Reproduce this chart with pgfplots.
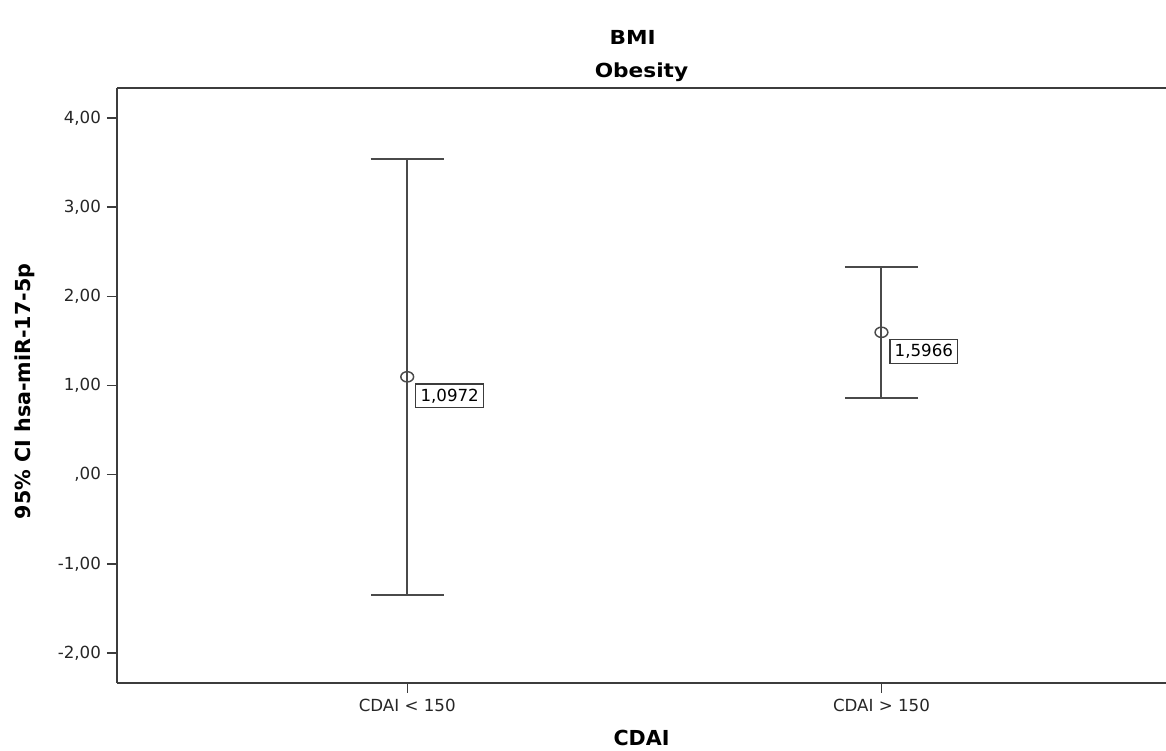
\documentclass[border=0pt]{standalone}
\usepackage{pgfplots}
\pgfplotsset{compat=1.18}
\usepackage{fontspec}
\setmainfont{DejaVu Sans}
\definecolor{axgray}{HTML}{3C3C3C}
\definecolor{bargray}{HTML}{4A4A4A}
\begin{document}
\begin{tikzpicture}
\begin{axis}[
  scale only axis,
  width=786.75pt, height=446.25pt,
  xmin=-0.612, xmax=1.6,
  ymin=-2.336, ymax=4.336,
  axis x line*=bottom, axis y line*=left,
  axis line style={axgray, line width=1.1pt, -},
  xtick={0,1}, xticklabels={CDAI < 150, CDAI > 150},
  ytick={-2,-1,0,1,2,3,4},
  yticklabels={{-2,00},{-1,00},{,00},{1,00},{2,00},{3,00},{4,00}},
  tick align=outside, major tick length=7.5pt,
  tick style={axgray, line width=1pt},
  ticklabel style={font=\fontsize{12.5}{14}\selectfont, text=black!85},
  yticklabel style={xshift=-1pt},
  xticklabel style={yshift=-1pt},
  xlabel={\textbf{CDAI}},
  xlabel style={font=\fontsize{15.5}{18}\selectfont, at={([yshift=-41.25pt]rel axis cs:0.5,0)}, anchor=center},
  ylabel={\textbf{95\% CI hsa-miR-17-5p}},
  ylabel style={font=\fontsize{15.5}{18}\selectfont, at={([xshift=-69pt]rel axis cs:0,0.49)}, anchor=center},
  clip=false,
]
\coordinate (sw) at (rel axis cs:0,0);
\coordinate (ne) at (rel axis cs:1,1);
\draw[axgray, line width=1.1pt] (rel axis cs:0,1) -- (rel axis cs:1,1);
\addplot[bargray, line width=1.5pt, mark=o, mark size=4.8pt,
  mark options={solid, line width=1.1pt, bargray, yscale=0.8},
  only marks,
  error bars/.cd, y dir=both, y explicit,
  error bar style={bargray, line width=1.5pt},
  error mark options={bargray, line width=1.4pt, mark size=27.4pt, rotate=90}]
  coordinates {
    (0,1.0972) +- (0,2.4428)
    (1,1.5966) +- (0,0.7334)
  };
\node[draw=axgray, line width=0.9pt, fill=white, anchor=north west, inner xsep=3.5pt, inner ysep=3.5pt,
  font=\fontsize{12.5}{14}\selectfont] at ([xshift=6pt,yshift=-5pt]axis cs:0,1.0972) {1,0972};
\node[draw=axgray, line width=0.9pt, fill=white, anchor=north west, inner xsep=3.5pt, inner ysep=3.5pt,
  font=\fontsize{12.5}{14}\selectfont] at ([xshift=6pt,yshift=-5pt]axis cs:1,1.5966) {1,5966};
\node[font=\bfseries\fontsize{14.5}{17}\selectfont] at ([yshift=12pt]rel axis cs:0.5,1) {\scalebox{1.12}[1]{Obesity}};
\node[font=\bfseries\fontsize{14.5}{17}\selectfont] at ([yshift=38.25pt]rel axis cs:0.4915,1) {\scalebox{1.12}[1]{BMI}};
\end{axis}
\pgfresetboundingbox
\path ([shift={(-87.75pt,-51pt)}]sw) rectangle ([yshift=66pt]ne);
\end{tikzpicture}
\end{document}
